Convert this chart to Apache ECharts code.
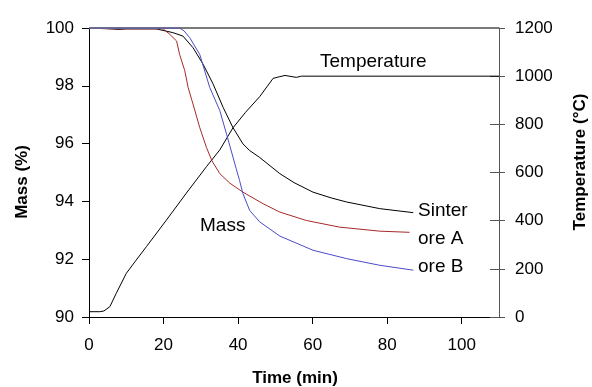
<!DOCTYPE html>
<html>
<head>
<meta charset="utf-8">
<script src="https://cdn.jsdelivr.net/npm/echarts@6/dist/echarts.min.js"></script>
<style>html,body{margin:0;padding:0;background:#fff;}#c{width:592px;height:387px;}</style>
</head>
<body>
<div id="c"></div>
<script>
// ---- data (time in min) ----
const tempTime = [0, 2.9, 4, 5.6, 7.3, 10, 12.5, 15.4, 20.8, 26.1, 31.5, 35.1, 38.6, 42, 45.8, 49.4, 51.2, 52.6, 55.6, 57, 110];
const tempVal  = [22, 22, 25, 43, 98, 181, 233, 292, 403, 514, 624, 694, 785, 850, 915, 991, 998, 1003, 995, 1000, 1000];

const sinterTime = [0, 5, 8, 10, 18, 22.5, 25.2, 27.9, 30.6, 33.3, 36, 38.6, 41.3, 43.1, 45.8, 51.2, 55, 60.1, 65, 69.1, 78, 87];
const sinterVal  = [100, 99.98, 99.95, 99.97, 99.97, 99.84, 99.72, 99.32, 98.75, 98.06, 97.25, 96.56, 95.99, 95.76, 95.52, 94.96, 94.65, 94.32, 94.12, 93.98, 93.75, 93.61];

const oreATime = [0, 5, 8, 19.9, 21.7, 23.5, 24.3, 25.7, 26.6, 27.9, 29.7, 31.5, 33, 35.1, 37.8, 41.3, 46.7, 51.2, 58.3, 67.2, 78, 86];
const oreAVal  = [100, 99.97, 99.97, 99.97, 99.78, 99.55, 99.09, 98.52, 97.94, 97.37, 96.56, 95.87, 95.4, 94.96, 94.63, 94.32, 93.92, 93.63, 93.34, 93.11, 92.97, 92.93];

const oreBTime = [0, 24.3, 25.5, 27, 29.7, 32.4, 35.1, 36.9, 39.5, 40.4, 41.3, 43.1, 45.8, 51.2, 60.1, 69.1, 78, 87];
const oreBVal  = [100, 100, 99.9, 99.67, 99.09, 97.94, 97.14, 96.33, 95.13, 94.72, 94.27, 93.69, 93.29, 92.8, 92.31, 92.02, 91.79, 91.62];

const seriesNames = ['Temperature', 'Sinter', 'ore A', 'ore B'];
const xTicks = [0, 20, 40, 60, 80, 100];
const tempMax = 1200;

function pairs(t, v) { return t.map((x, i) => [x, v[i]]); }

const FONT = '"Liberation Sans", Arial, sans-serif';
const chart = echarts.init(document.getElementById('c'), null, {renderer: 'canvas'});

const lineBase = {type: 'line', showSymbol: false, symbol: 'none', smooth: false, animation: false};
const gridRect = {left: 89, right: 93, top: 28, bottom: 70, containLabel: false};

chart.setOption({
  animation: false,
  backgroundColor: '#ffffff',
  textStyle: {fontFamily: FONT},
  grid: [Object.assign({}, gridRect), Object.assign({}, gridRect)],
  xAxis: [{
    gridIndex: 0, type: 'value', min: 0, max: 110, interval: 20, position: 'bottom',
    axisLine: {show: true, onZero: false, lineStyle: {color: '#000', width: 1}},
    axisTick: {show: true, inside: false, length: 7, lineStyle: {color: '#000'}},
    axisLabel: {show: true, showMaxLabel: false, margin: 20, fontSize: 17, color: '#000', fontFamily: FONT,
      formatter: v => xTicks.includes(v) ? String(v) : ''},
    splitLine: {show: false}
  }, {
    gridIndex: 1, type: 'value', position: 'top', min: 0, max: 110, interval: 20,
    axisLine: {show: false, onZero: false},
    axisTick: {show: false}, axisLabel: {show: false}, splitLine: {show: false}
  }],
  yAxis: [{
    gridIndex: 0, type: 'value', min: 90, max: 100, interval: 2, position: 'left',
    axisLine: {show: true, onZero: false, lineStyle: {color: '#000', width: 1}},
    axisTick: {show: true, inside: false, length: 7, lineStyle: {color: '#000'}},
    axisLabel: {margin: 15, fontSize: 17, color: '#000', fontFamily: FONT},
    splitLine: {show: false}
  }, {
    gridIndex: 0, type: 'value', min: 0, max: 1200, interval: 200, position: 'right',
    axisLine: {show: true, onZero: false, lineStyle: {color: '#555', width: 1}},
    axisTick: {show: true, inside: false, length: 6, lineStyle: {color: '#555'}},
    axisLabel: {margin: 16, fontSize: 17, color: '#000', fontFamily: FONT, formatter: v => String(v)},
    splitLine: {show: false}
  }, {
    gridIndex: 1, type: 'value', min: 0, max: 1200, interval: 200, position: 'right',
    axisLine: {show: false, onZero: false},
    axisTick: {show: true, inside: true, length: 9, lineStyle: {color: '#555'}},
    axisLabel: {show: false},
    splitLine: {show: false}
  }],
  series: [
    Object.assign({}, lineBase, {name: seriesNames[0], xAxisIndex: 0, yAxisIndex: 1, data: pairs(tempTime, tempVal), lineStyle: {color: '#000', width: 1}, z: 3,
      markLine: {silent: true, symbol: ['none', 'none'], label: {show: false}, animation: false,
        lineStyle: {color: '#7a7a7a', width: 2, type: 'solid'},
        data: [{yAxis: tempMax}]}}),
    Object.assign({}, lineBase, {name: seriesNames[1], xAxisIndex: 0, yAxisIndex: 0, data: pairs(sinterTime, sinterVal), lineStyle: {color: '#000', width: 1}, z: 4}),
    Object.assign({}, lineBase, {name: seriesNames[2], xAxisIndex: 0, yAxisIndex: 0, data: pairs(oreATime, oreAVal), lineStyle: {color: '#a52a2a', width: 1}, z: 4}),
    Object.assign({}, lineBase, {name: seriesNames[3], xAxisIndex: 0, yAxisIndex: 0, data: pairs(oreBTime, oreBVal), lineStyle: {color: '#4b4bc8', width: 1}, z: 5})
  ],
  graphic: [
    {type: 'text', left: 320, top: 52, style: {text: 'Temperature', font: '19px ' + FONT, fill: '#000'}},
    {type: 'text', left: 200, top: 216, style: {text: 'Mass', font: '19px ' + FONT, fill: '#000'}},
    {type: 'text', left: 418, top: 201, style: {text: 'Sinter', font: '19px ' + FONT, fill: '#000'}},
    {type: 'text', left: 418, top: 229, style: {text: 'ore A', font: '19px ' + FONT, fill: '#000'}},
    {type: 'text', left: 418, top: 257, style: {text: 'ore B', font: '19px ' + FONT, fill: '#000'}},
    {type: 'text', x: 295, y: 378, style: {text: 'Time (min)', font: 'bold 17px ' + FONT, fill: '#000', align: 'center', verticalAlign: 'middle'}},
    {type: 'text', x: 22, y: 182, rotation: Math.PI / 2, style: {text: 'Mass (%)', font: 'bold 17px ' + FONT, fill: '#000', align: 'center', verticalAlign: 'middle'}},
    {type: 'text', x: 580, y: 162, rotation: Math.PI / 2, style: {text: 'Temperature (°C)', font: 'bold 17px ' + FONT, fill: '#000', align: 'center', verticalAlign: 'middle'}}
  ]
});
</script>
</body>
</html>
